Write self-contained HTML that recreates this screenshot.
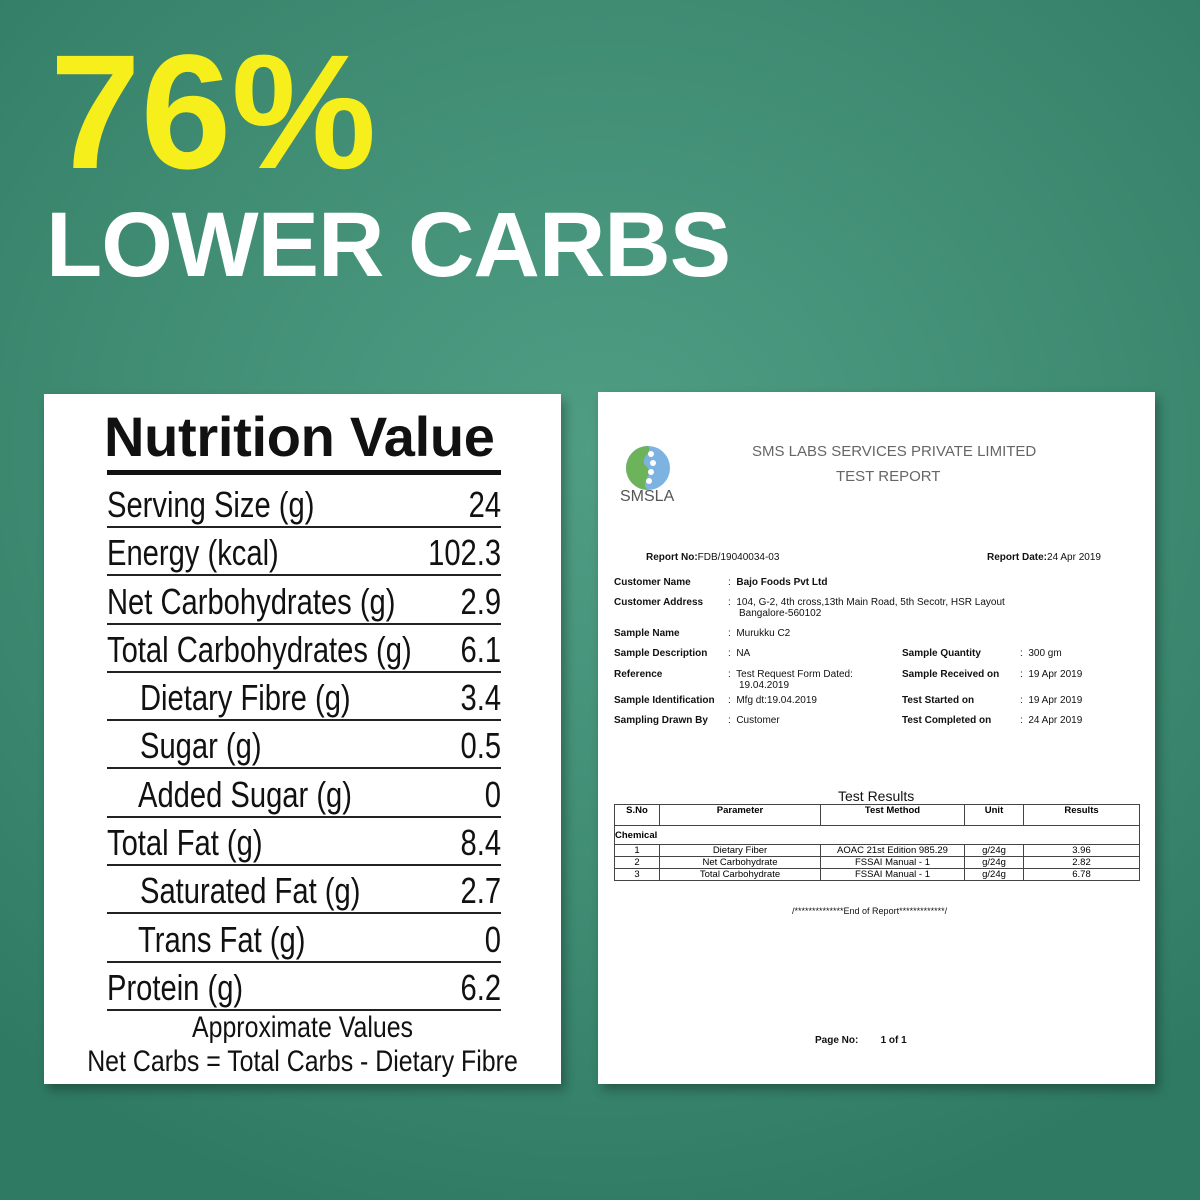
<!DOCTYPE html>
<html><head><meta charset="utf-8"><style>
*{margin:0;padding:0;box-sizing:border-box}
body{width:1200px;height:1200px;overflow:hidden;position:relative;font-family:"Liberation Sans",sans-serif;
background:radial-gradient(ellipse 900px 800px at 600px 450px,#4f9e84 0%,#3f8c73 55%,#2f7a63 100%);}
.abs{position:absolute;white-space:nowrap}
.h1{left:50px;top:30px;font-size:163px;font-weight:bold;color:#f7ef1c;line-height:1}
.h2{left:46px;top:199px;font-size:92px;font-weight:bold;color:#fff;letter-spacing:-1px;line-height:1}
.card{position:absolute;background:#fff;box-shadow:4px 6px 10px rgba(0,0,0,.3)}
.nv{color:#111}
.row{position:absolute;left:107px;width:394px;border-bottom:2px solid #222;font-size:36px;height:48px}
.row span{position:absolute;bottom:0;transform:scaleX(0.81);transform-origin:left bottom;white-space:nowrap}
.row .v{right:0;transform-origin:right bottom}
.s{font-size:10px;color:#111}
.b{font-weight:bold}
table{border-collapse:collapse;font-size:9.5px;position:absolute;left:614px;top:804px;width:526px}
td{border:1px solid #444;text-align:center;height:12px;padding:0}
.foot{position:absolute;left:-50px;width:705px;text-align:center;font-size:30px;transform:scaleX(0.83);white-space:nowrap}
</style></head><body>
<div class="abs h1">76%</div>
<div class="abs h2">LOWER CARBS</div>

<div class="card" style="left:44px;top:394px;width:517px;height:690px"></div>
<div class="abs nv" style="left:104px;top:404px;font-size:56px;font-weight:bold;letter-spacing:-0.3px">Nutrition Value</div>
<div class="abs" style="left:107px;top:470px;width:394px;height:5px;background:#111"></div>
<div class="nv">
<div class="row" style="top:480px"><span>Serving Size (g)</span><span class="v">24</span></div>
<div class="row" style="top:528px"><span>Energy (kcal)</span><span class="v">102.3</span></div>
<div class="row" style="top:577px"><span>Net Carbohydrates (g)</span><span class="v">2.9</span></div>
<div class="row" style="top:625px"><span>Total Carbohydrates (g)</span><span class="v">6.1</span></div>
<div class="row" style="top:673px"><span style="left:33px">Dietary Fibre (g)</span><span class="v">3.4</span></div>
<div class="row" style="top:721px"><span style="left:33px">Sugar (g)</span><span class="v">0.5</span></div>
<div class="row" style="top:770px"><span style="left:31px">Added Sugar (g)</span><span class="v">0</span></div>
<div class="row" style="top:818px"><span>Total Fat (g)</span><span class="v">8.4</span></div>
<div class="row" style="top:866px"><span style="left:33px">Saturated Fat (g)</span><span class="v">2.7</span></div>
<div class="row" style="top:915px"><span style="left:31px">Trans Fat (g)</span><span class="v">0</span></div>
<div class="row" style="top:963px"><span>Protein (g)</span><span class="v">6.2</span></div>
<div class="foot" style="top:1011px">Approximate Values</div>
<div class="foot" style="top:1045px">Net Carbs = Total Carbs - Dietary Fibre</div>
</div>

<div class="card" style="left:598px;top:392px;width:557px;height:692px"></div>
<svg class="abs" style="left:624px;top:444px" width="48" height="48" viewBox="0 0 48 48">
<circle cx="24" cy="24" r="22" fill="#7db3e0"/>
<path d="M24 2 A22 22 0 0 0 24 46 C14 38 32 30 22 22 C14 14 30 8 24 2Z" fill="#6db35b"/>
<circle cx="27" cy="10" r="3" fill="#fff"/><circle cx="29" cy="19" r="3" fill="#fff"/><circle cx="27" cy="28" r="3" fill="#fff"/><circle cx="25" cy="37" r="3" fill="#fff"/>
</svg>
<div class="abs" style="left:620px;top:488px;font-size:16px;color:#555">SMSLA</div>
<div class="abs" style="left:752px;top:443px;font-size:15px;color:#666">SMS LABS SERVICES PRIVATE LIMITED</div>
<div class="abs" style="left:836px;top:468px;font-size:15px;color:#666">TEST REPORT</div>

<div class="abs s" style="left:646px;top:552px"><b>Report No:</b>FDB/19040034-03</div>
<div class="abs s" style="left:987px;top:552px"><b>Report Date:</b>24 Apr 2019</div>
<div class="abs s b" style="left:614px;top:577px">Customer Name</div><div class="abs s" style="left:728px;top:577px">:&nbsp; <b>Bajo Foods Pvt Ltd</b></div>
<div class="abs s b" style="left:614px;top:597px">Customer Address</div><div class="abs s" style="left:728px;top:597px">:&nbsp; 104, G-2, 4th cross,13th Main Road, 5th Secotr, HSR Layout</div>
<div class="abs s" style="left:739px;top:608px">Bangalore-560102</div>
<div class="abs s b" style="left:614px;top:628px">Sample Name</div><div class="abs s" style="left:728px;top:628px">:&nbsp; Murukku C2</div>
<div class="abs s b" style="left:614px;top:648px">Sample Description</div><div class="abs s" style="left:728px;top:648px">:&nbsp; NA</div>
<div class="abs s b" style="left:614px;top:669px">Reference</div><div class="abs s" style="left:728px;top:669px">:&nbsp; Test Request Form Dated:</div>
<div class="abs s" style="left:739px;top:680px">19.04.2019</div>
<div class="abs s b" style="left:614px;top:695px">Sample Identification</div><div class="abs s" style="left:728px;top:695px">:&nbsp; Mfg dt:19.04.2019</div>
<div class="abs s b" style="left:614px;top:715px">Sampling Drawn By</div><div class="abs s" style="left:728px;top:715px">:&nbsp; Customer</div>
<div class="abs s b" style="left:902px;top:648px">Sample Quantity</div><div class="abs s" style="left:1020px;top:648px">:&nbsp; 300 gm</div>
<div class="abs s b" style="left:902px;top:669px">Sample Received on</div><div class="abs s" style="left:1020px;top:669px">:&nbsp; 19 Apr 2019</div>
<div class="abs s b" style="left:902px;top:695px">Test Started on</div><div class="abs s" style="left:1020px;top:695px">:&nbsp; 19 Apr 2019</div>
<div class="abs s b" style="left:902px;top:715px">Test Completed on</div><div class="abs s" style="left:1020px;top:715px">:&nbsp; 24 Apr 2019</div>

<div class="abs" style="left:838px;top:788px;font-size:14px;color:#111">Test Results</div>
<table>
<tr style="font-weight:bold"><td style="width:45px;height:21px;vertical-align:top">S.No</td><td style="width:161px;vertical-align:top">Parameter</td><td style="width:144px;vertical-align:top">Test Method</td><td style="width:59px;vertical-align:top">Unit</td><td style="vertical-align:top">Results</td></tr>
<tr><td colspan="5" style="text-align:left;font-weight:bold;height:19px">Chemical</td></tr>
<tr><td>1</td><td>Dietary Fiber</td><td>AOAC 21st Edition 985.29</td><td>g/24g</td><td>3.96</td></tr>
<tr><td>2</td><td>Net Carbohydrate</td><td>FSSAI Manual - 1</td><td>g/24g</td><td>2.82</td></tr>
<tr><td>3</td><td>Total Carbohydrate</td><td>FSSAI Manual - 1</td><td>g/24g</td><td>6.78</td></tr>
</table>
<div class="abs" style="left:792px;top:906px;font-size:9px;color:#111">/**************End of Report*************/</div>
<div class="abs s b" style="left:815px;top:1035px">Page No:&nbsp;&nbsp;&nbsp;&nbsp;&nbsp;&nbsp;&nbsp; 1 of 1</div>
</body></html>
